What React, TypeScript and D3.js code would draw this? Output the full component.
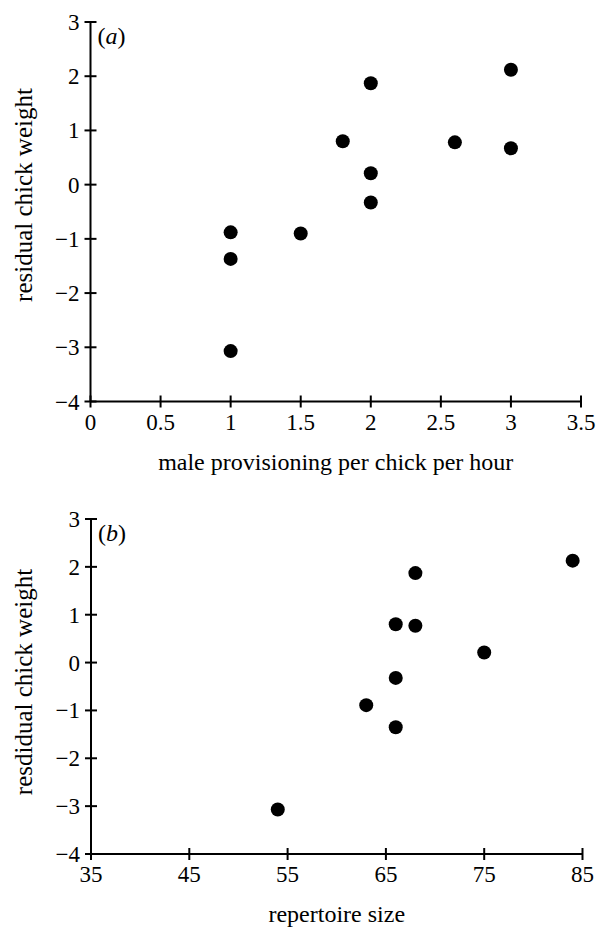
import React from "react";
import * as d3 from "d3";

const provX = [1, 1, 1, 1.5, 1.8, 2, 2, 2, 2.6, 3, 3];
const provY = [-0.88, -1.37, -3.07, -0.9, 0.8, 1.87, 0.21, -0.33, 0.78, 2.12, 0.67];
const repX = [54, 63, 66, 66, 66, 68, 68, 75, 84];
const repY = [-3.07, -0.89, 0.8, -0.32, -1.35, 1.87, 0.77, 0.21, 2.13];
const ticksA = [0, 0.5, 1, 1.5, 2, 2.5, 3, 3.5];
const ticksB = [35, 45, 55, 65, 75, 85];
const yTicks = [3, 2, 1, 0, -1, -2, -3, -4];

const FONT = '"Liberation Serif", "Times New Roman", serif';

type PanelProps = {
  xs: number[];
  ys: number[];
  xTicks: number[];
  xDomain: [number, number];
  xRange: [number, number];
  yRange: [number, number];
  xTitle: string;
  yTitle: string;
  yTitleX: number;
  yTitleY: number;
  tag: string;
};

function Panel(p: PanelProps) {
  const x = d3.scaleLinear().domain(p.xDomain).range(p.xRange);
  const y = d3.scaleLinear().domain([-4, 3]).range(p.yRange);
  const x0 = p.xRange[0];
  const yb = p.yRange[0];
  const fmt = (v: number) => (v < 0 ? "\u2212" + Math.abs(v) : String(v));
  return (
    <g fontFamily={FONT} fill="#000">
      <line x1={x0} x2={x0} y1={y(3)} y2={yb} stroke="#000" strokeWidth={2} />
      <line x1={x0} x2={p.xRange[1]} y1={yb} y2={yb} stroke="#000" strokeWidth={2} />
      {yTicks.map((t) => (
        <g key={"y" + t}>
          <line x1={x0 - 6} x2={x0 + 6} y1={y(t)} y2={y(t)} stroke="#000" strokeWidth={2} />
          <text x={x0 - 11} y={y(t)} dy="0.35em" textAnchor="end" fontSize={23}>
            {fmt(t)}
          </text>
        </g>
      ))}
      {p.xTicks.map((t) => (
        <g key={"x" + t}>
          <line x1={x(t)} x2={x(t)} y1={yb - 6} y2={yb + 6} stroke="#000" strokeWidth={2} />
          <text x={x(t)} y={yb + 28} textAnchor="middle" fontSize={23}>
            {t}
          </text>
        </g>
      ))}
      <text x={(p.xRange[0] + p.xRange[1]) / 2} y={yb + 68} textAnchor="middle" fontSize={24}>
        {p.xTitle}
      </text>
      <text
        transform={`translate(${p.yTitleX},${p.yTitleY}) rotate(-90)`}
        textAnchor="middle"
        fontSize={25}
      >
        {p.yTitle}
      </text>
      <text x={x0 + 7} y={y(3) + 22} fontSize={24}>
        (<tspan fontStyle="italic">{p.tag}</tspan>)
      </text>
      {p.xs.map((v, i) => (
        <circle key={i} cx={x(v)} cy={y(p.ys[i])} r={7} fill="#000" />
      ))}
    </g>
  );
}

export default function App() {
  return (
    <svg width={601} height={927} style={{ position: "absolute", left: 0, top: 0, background: "#fff" }}>
      <rect width={601} height={927} fill="#fff" />
      <Panel
        xs={provX}
        ys={provY}
        xTicks={ticksA}
        xDomain={[0, 3.5]}
        xRange={[90.5, 581]}
        yRange={[401.5, 22]}
        xTitle="male provisioning per chick per hour"
        yTitle="residual chick weight"
        yTitleX={32}
        yTitleY={195}
        tag="a"
      />
      <Panel
        xs={repX}
        ys={repY}
        xTicks={ticksB}
        xDomain={[35, 85]}
        xRange={[91, 582.5]}
        yRange={[854, 519]}
        xTitle="repertoire size"
        yTitle="resdidual chick weight"
        yTitleX={32}
        yTitleY={682}
        tag="b"
      />
    </svg>
  );
}
